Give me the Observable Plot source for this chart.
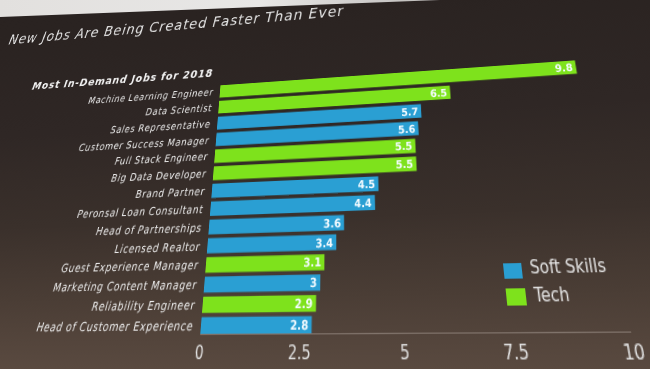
<!DOCTYPE html>
<html>
<head>
<meta charset="utf-8">
<script src="https://cdn.jsdelivr.net/npm/d3@7"></script>
<script src="https://cdn.jsdelivr.net/npm/@observablehq/plot@0.6"></script>
<style>
html,body{margin:0;padding:0;width:650px;height:369px;overflow:hidden;}
html{background:#3a302b;}
body{position:relative;font-family:"DejaVu Sans",sans-serif;background:linear-gradient(180deg,#2a2321 0px,#2d2523 100px,#362d29 200px,#4b3e36 300px,#5a4a40 369px);}
#wall{position:absolute;left:0;top:0;width:650px;height:369px;background:linear-gradient(90deg,#e2e0de 0%,#e8e7e6 40%,#8a8684 100%);clip-path:polygon(0 0,440px 0,0 17px);}
#slide{position:absolute;left:-300px;top:-300px;width:1400px;height:1100px;transform-origin:0 0;
  background:linear-gradient(180deg,#231d1c 0px,#2a2321 300px,#2f2725 430px,#3a302b 530px,#4a3d35 600px,#5b4b41 669px,#62524a 1100px);}
#inner{position:absolute;left:300px;top:300px;width:1000px;height:700px;}
#title{position:absolute;white-space:nowrap;font-style:italic;font-size:18px;letter-spacing:1.3px;line-height:1;color:#e6e6e6;}
#heading{position:absolute;white-space:nowrap;font-style:italic;font-weight:bold;font-size:13px;letter-spacing:1px;line-height:1;color:#f2f2f2;text-align:right;width:340px;}
.lg{position:absolute;white-space:nowrap;font-size:15px;line-height:1;color:#e4e4e4;}
.sw{position:absolute;}
#chart{position:absolute;left:0;top:0;width:1000px;}
</style>
</head>
<body>
<div id="slide"><div id="inner">
  <div id="title">New Jobs Are Being Created Faster Than Ever</div>
  <div id="heading">Most In-Demand Jobs for 2018</div>
  <div id="chart"></div>
  <div id="legend"></div>
</div></div>
<div id="wall"></div>
<script>
// ---- data ----
const jobs = ["Machine Learning Engineer","Data Scientist","Sales Representative","Customer Success Manager","Full Stack Engineer","Big Data Developer","Brand Partner","Peronsal Loan Consultant","Head of Partnerships","Licensed Realtor","Guest Experience Manager","Marketing Content Manager","Reliability Engineer","Head of Customer Experience"];
const demand = [9.8,6.5,5.7,5.6,5.5,5.5,4.5,4.4,3.6,3.4,3.1,3,2.9,2.8];
const skillType = ["Tech","Tech","Soft Skills","Soft Skills","Tech","Tech","Soft Skills","Soft Skills","Soft Skills","Soft Skills","Tech","Soft Skills","Tech","Soft Skills"];
const groups = ["Soft Skills","Tech"];
const groupColors = ["#2a9fd3","#7ee21c"];
const xTicks = [0,2.5,5,7.5,10];

const rows = jobs.map((job,i)=>({job, value: demand[i], type: skillType[i]}));

const chart = Plot.plot({
  width: 1000, height: 369,
  marginLeft: 200, marginRight: 370, marginTop: 87, marginBottom: 36,
  style: {background:"transparent", color:"#ececec", fontFamily:"DejaVu Sans", overflow:"visible", maxWidth:"none"},
  x: {domain:[0,10], label:null},
  y: {domain: jobs, paddingInner:0.2, paddingOuter:0, round:false, label:null},
  color: {domain: groups, range: groupColors},
  marks: [
    Plot.barX(rows, {x:"value", y:"job", fill:"type"}),
    Plot.text(rows, {x:"value", y:"job", text: d=>String(d.value), textAnchor:"end", dx:-4, fill:"#f4fbff", fontWeight:"bold", fontSize:11}),
    Plot.frame({anchor:"bottom", stroke:"#8c8078", strokeOpacity:0.8}),
    Plot.axisX({ticks:xTicks, tickFormat:d=>String(d), tickSize:0, tickPadding:10, fontSize:15, fill:"#e2e2e2", label:null}),
    Plot.axisY({tickSize:0, tickPadding:9, fontSize:11, fontStyle:"italic", fill:"#ececec", label:null})
  ]
});
d3.select(chart).selectAll("[aria-label='y-axis tick label'] text").style("letter-spacing","0.7px");
document.getElementById("chart").appendChild(chart);

// ---- perspective of the photographed screen (homography flat -> photo) ----
function solve(A,b){
  const n=b.length, M=A.map((r,i)=>[...r,b[i]]);
  for(let c=0;c<n;c++){
    let p=c; for(let r=c+1;r<n;r++) if(Math.abs(M[r][c])>Math.abs(M[p][c])) p=r;
    [M[c],M[p]]=[M[p],M[c]];
    for(let r=0;r<n;r++){ if(r!==c){ const f=M[r][c]/M[c][c]; for(let k=c;k<=n;k++) M[r][k]-=f*M[c][k]; } }
  }
  return M.map((r,i)=>r[n]/r[i]);
}
function homography(src,dst){
  const A=[],b=[];
  for(let i=0;i<4;i++){ const [x,y]=src[i],[u,v]=dst[i];
    A.push([x,y,1,0,0,0,-u*x,-u*y]); b.push(u);
    A.push([0,0,0,x,y,1,-v*x,-v*y]); b.push(v); }
  return solve(A,b);
}
function apply(h,x,y){ const w=h[6]*x+h[7]*y+1; return [(h[0]*x+h[1]*y+h[2])/w,(h[3]*x+h[4]*y+h[5])/w]; }
function mul(A,B){ return A.map((r,i)=>[0,1,2].map(j=>r[0]*B[0][j]+r[1]*B[1][j]+r[2]*B[2][j])); }
const flatPts = [[200,94.13],[621.4,94.13],[200,325.87],[630,333]];
const photoPts = [[220,91.5],[576,67],[201,325.5],[630,331.5]];
const H = homography(flatPts, photoPts);
const Hi = homography(photoPts, flatPts);
const OFF = 300;
const H3 = [[H[0],H[1],H[2]],[H[3],H[4],H[5]],[H[6],H[7],1]];
const M = mul(mul([[1,0,OFF],[0,1,OFF],[0,0,1]], H3), [[1,0,-OFF],[0,1,-OFF],[0,0,1]]);
document.getElementById("slide").style.transform =
  `matrix3d(${M[0][0]},${M[1][0]},0,${M[2][0]},${M[0][1]},${M[1][1]},0,${M[2][1]},0,0,1,0,${M[0][2]},${M[1][2]},0,${M[2][2]})`;

function placeBaseline(el, px, py, fs, alignRight, w){
  const [fx,fy]=apply(Hi,px,py);
  el.style.top=(fy-0.846*fs)+"px";
  el.style.left=(alignRight? fx-w : fx)+"px";
}
placeBaseline(document.getElementById("title"), 8, 45, 18, false);
placeBaseline(document.getElementById("heading"), 213, 76.5, 13, true, 340);

const legend=document.getElementById("legend");
const sw=[[503,263,523,278],[506,289,527,305]];
const lt=[[530,275],[533,302]];
groups.forEach((g,i)=>{
  const [x0,y0]=apply(Hi,sw[i][0],sw[i][1]), [x1,y1]=apply(Hi,sw[i][2],sw[i][3]);
  const s=document.createElement("div"); s.className="sw";
  s.style.left=x0+"px"; s.style.top=y0+"px"; s.style.width=(x1-x0)+"px"; s.style.height=(y1-y0)+"px";
  s.style.background=groupColors[i]; legend.appendChild(s);
  const t=document.createElement("div"); t.className="lg"; t.textContent=g;
  placeBaseline(t, lt[i][0], lt[i][1], 15, false);
  t.style.left=(x1+8)+"px";
  legend.appendChild(t);
});
</script>
</body>
</html>
